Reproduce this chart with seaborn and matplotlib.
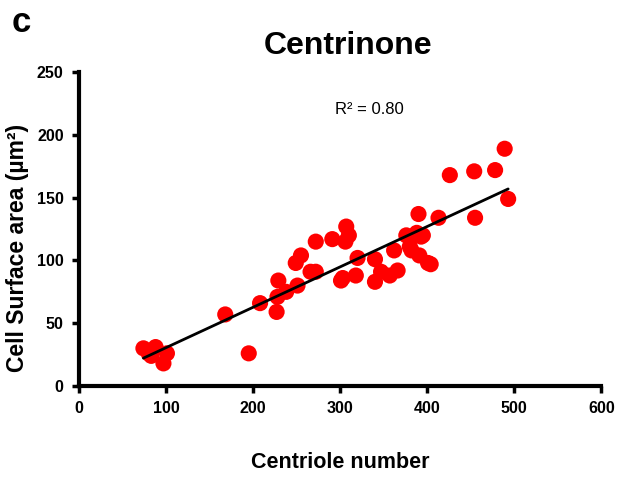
import matplotlib
matplotlib.use("Agg")
import matplotlib.pyplot as plt
import seaborn as sns
import pandas as pd
import numpy as np

centriole_number = [74, 80, 88, 83, 101, 97, 168, 195, 208, 227, 228, 229, 238, 251,
                    249, 255, 266, 272, 272, 291, 301, 306, 307, 310, 303, 318, 320,
                    340, 340, 347, 357, 366, 362, 376, 380, 388, 390, 393, 391, 395,
                    401, 404, 382, 413, 426, 454, 478, 489, 493, 455]
surface_area = [30, 26, 31, 24, 26, 18, 57, 26, 66, 59, 71, 84, 75, 80,
                98, 104, 91, 91, 115, 117, 84, 115, 127, 120, 86, 88, 102,
                101, 83, 91, 88, 92, 108, 120, 111, 122, 137, 119, 104, 120,
                98, 97, 108, 134, 168, 171, 172, 189, 149, 134]

x_ticks = [0, 100, 200, 300, 400, 500, 600]
y_ticks = [0, 50, 100, 150, 200, 250]

df = pd.DataFrame({"Centriole number": centriole_number,
                   "Cell Surface area": surface_area})

sns.set_style("ticks")
plt.rcParams['font.family'] = ['Liberation Sans', 'DejaVu Sans']
plt.rcParams['text.color'] = 'black'
plt.rcParams['axes.labelcolor'] = 'black'
plt.rcParams['xtick.color'] = 'black'
plt.rcParams['ytick.color'] = 'black'
plt.rcParams['axes.edgecolor'] = 'black'

fig = plt.figure(figsize=(6.27, 4.78), dpi=100)
ax = fig.add_axes([0.126, 0.1925, 0.833, 0.6565])

sns.regplot(data=df, x="Centriole number", y="Cell Surface area", ax=ax, ci=None,
            scatter_kws=dict(s=135, color="#ff0000", alpha=1, edgecolors="none", zorder=2),
            line_kws=dict(color="black", lw=2, zorder=3))

ax.set_xlim(0, 600)
ax.set_ylim(0, 250)
ax.set_xticks(x_ticks)
ax.set_yticks(y_ticks)
ax.tick_params(axis="both", direction="out", length=5, width=2.5, labelsize=11.5, pad=6,
               colors="black")
for lab in ax.get_xticklabels() + ax.get_yticklabels():
    lab.set_fontweight("bold")
for s in ["left", "bottom"]:
    ax.spines[s].set_linewidth(3)
    ax.spines[s].set_color("black")
for s in ["top", "right"]:
    ax.spines[s].set_visible(False)

ax.set_xlabel("Centriole number", fontsize=15.5, fontweight="bold", labelpad=26)
ax.set_ylabel("Cell Surface area (µm²)", fontsize=16.5, fontweight="bold")
ax.yaxis.set_label_coords(-0.095, 0.44)

fig.text(0.555, 0.903, "Centrinone", fontsize=23, fontweight="bold", ha="center", va="center")
fig.text(0.018, 0.952, "c", fontsize=25, fontweight="bold", ha="left", va="center")
ax.text(0.49, 0.88, "R² = 0.80", transform=ax.transAxes, fontsize=12, ha="left", va="center")

fig.savefig("out.png", dpi=100)
